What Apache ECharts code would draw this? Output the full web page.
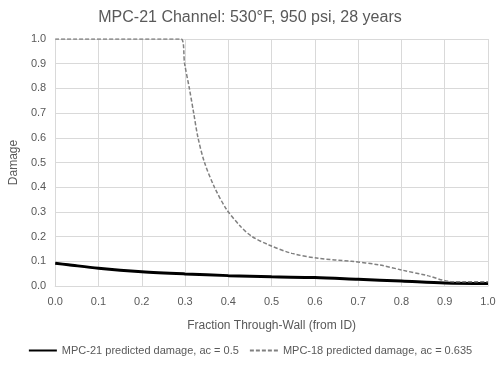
<!DOCTYPE html>
<html><head><meta charset="utf-8">
<script src="https://cdn.jsdelivr.net/npm/echarts@6/dist/echarts.min.js"></script>
<style>html,body{margin:0;padding:0;background:#fff}#c{width:500px;height:365px}</style>
</head><body><div id="c"></div>
<script>
var titleText = 'MPC-21 Channel: 530°F, 950 psi, 28 years';
var xAxisName = 'Fraction Through-Wall (from ID)';
var yAxisName = 'Damage';
var seriesNames = ['MPC-21 predicted damage, ac = 0.5', 'MPC-18 predicted damage, ac = 0.635'];
var mpc21X = [0, 0.03, 0.1, 0.2, 0.3, 0.4, 0.5, 0.6, 0.7, 0.8, 0.9, 1.0];
var mpc21Y = [0.092, 0.086, 0.072, 0.058, 0.049, 0.042, 0.037, 0.034, 0.027, 0.020, 0.012, 0.010];
var mpc18X = [0, 0.291, 0.299, 0.310, 0.320, 0.330, 0.345, 0.368, 0.396, 0.429, 0.455, 0.494, 0.547, 0.608, 0.684, 0.75, 0.80, 0.86, 0.913, 0.95, 1.0];
var mpc18Y = [1.0, 1.0, 0.90, 0.80, 0.70, 0.60, 0.50, 0.40, 0.31, 0.24, 0.20, 0.166, 0.132, 0.112, 0.100, 0.085, 0.065, 0.042, 0.018, 0.017, 0.017];
function pairs(xs, ys){ return xs.map(function(x,i){ return [x, ys[i]]; }); }
var font = 'Liberation Sans';
var chart = echarts.init(document.getElementById('c'));
chart.setOption({
  animation: false,
  textStyle: {fontFamily: font},
  title: {text: titleText, left: 'center', top: 5, textStyle: {fontFamily: font, fontSize: 16, fontWeight: 'normal', color: '#595959'}},
  grid: {left: 51, right: 12, top: 39, bottom: 79, containLabel: false},
  xAxis: {type: 'value', min: 0, max: 1, interval: 0.1, name: xAxisName, nameLocation: 'middle', nameGap: 34,
    nameTextStyle: {fontSize: 12, color: '#595959'},
    axisLine: {show: true, lineStyle: {color: '#d9d9d9'}}, axisTick: {show: false},
    axisLabel: {color: '#595959', fontSize: 11, margin: 10, formatter: function(v){ return v.toFixed(1); }},
    splitLine: {show: true, lineStyle: {color: '#d9d9d9', width: 1}}},
  yAxis: {type: 'value', min: 0, max: 1, interval: 0.1, name: yAxisName, nameLocation: 'middle', nameGap: 34,
    nameTextStyle: {fontSize: 12, color: '#595959'},
    axisLine: {show: false}, axisTick: {show: false},
    axisLabel: {color: '#595959', fontSize: 11, margin: 9, formatter: function(v){ return v.toFixed(1); }},
    splitLine: {show: true, lineStyle: {color: '#d9d9d9', width: 1}}},
  legend: {bottom: 4, left: 'center', itemWidth: 28, itemHeight: 10, itemGap: 10,
    itemStyle: {opacity: 0},
    textStyle: {fontSize: 11, color: '#595959'},
    data: seriesNames},
  series: [
    {name: seriesNames[0], type: 'line', data: pairs(mpc21X, mpc21Y), showSymbol: false, symbol: 'none', smooth: 0.3,
      lineStyle: {color: '#000', width: 3}, itemStyle: {color: '#000'}},
    {name: seriesNames[1], type: 'line', data: pairs(mpc18X, mpc18Y), showSymbol: false, symbol: 'none', smooth: 0.3,
      lineStyle: {color: '#808080', width: 1.5, type: [4, 2]}, itemStyle: {color: '#808080'}}
  ]
});
</script></body></html>
